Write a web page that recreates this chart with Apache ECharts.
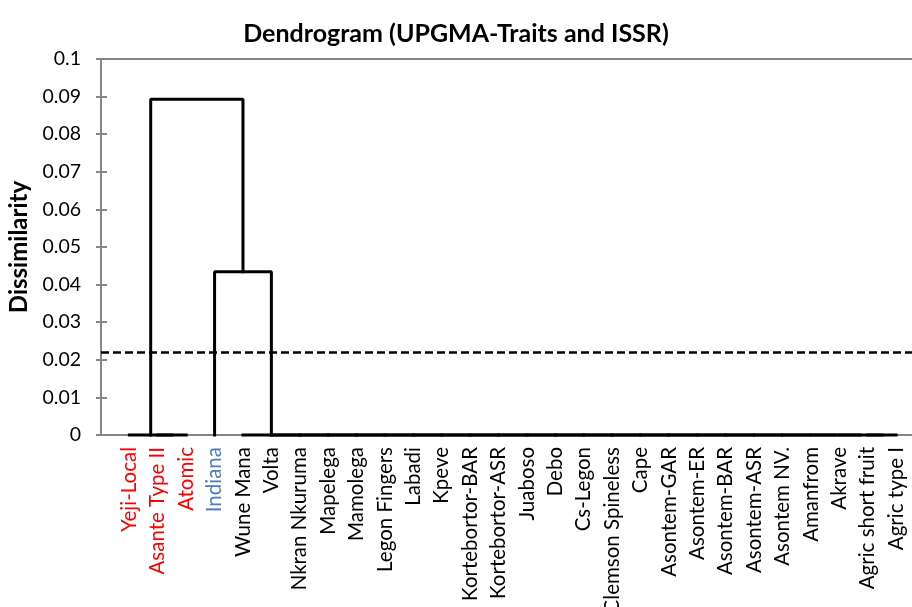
<!DOCTYPE html>
<html>
<head>
<meta charset="utf-8">
<script src="https://cdn.jsdelivr.net/npm/echarts@6/dist/echarts.min.js"></script>
<style>
    html, body { margin: 0; padding: 0; background: #fff; }
    #chart { width: 912px; height: 607px; }
</style>
</head>
<body>
<div id="chart"></div>
<script>
// leaves, left to right
const leafNames = [
    'Yeji-Local', 'Asante Type II', 'Atomic', 'Indiana', 'Wune Mana', 'Volta',
    'Nkran Nkuruma', 'Mapelega', 'Mamolega', 'Legon Fingers', 'Labadi', 'Kpeve',
    'Kortebortor-BAR', 'Kortebortor-ASR', 'Juaboso', 'Debo', 'Cs-Legon',
    'Clemson Spineless', 'Cape', 'Asontem-GAR', 'Asontem-ER', 'Asontem-BAR',
    'Asontem-ASR', 'Asontem NV.', 'Amanfrom', 'Akrave', 'Agric short fruit', 'Agric type I'
]
const redLeaves  = ['Yeji-Local', 'Asante Type II', 'Atomic']
const blueLeaves = ['Indiana']

// merges: [child a, child b, height]; ids 0-27 are leaves, new clusters get 28, 29, ...
const merges = [
    [1, 2, 0],  [0, 28, 0],
    [26, 27, 0], [25, 30, 0], [24, 31, 0], [23, 32, 0], [22, 33, 0], [21, 34, 0],
    [20, 35, 0], [19, 36, 0], [18, 37, 0], [17, 38, 0], [16, 39, 0], [15, 40, 0],
    [14, 41, 0], [13, 42, 0], [12, 43, 0], [11, 44, 0], [10, 45, 0], [9, 46, 0],
    [8, 47, 0],  [7, 48, 0],  [6, 49, 0],  [5, 50, 0],  [4, 51, 0],
    [3, 52, 0.0434],
    [29, 53, 0.0893]
]

const cutHeight  = 0.0219
const yTickLabels = ['0', '0.01', '0.02', '0.03', '0.04', '0.05', '0.06', '0.07', '0.08', '0.09', '0.1']

const font = 'Lato, "Open Sans", sans-serif'
const gray = '#868686'

// node positions: leaf i sits at i + 1, a cluster at the mean of its two children
let pos = leafNames.map((n, i) => i + 1)
let hgt = leafNames.map(() => 0)
let series = []
merges.forEach(([a, b, h]) => {
    // one U-shaped link per merge
    series.push({
        type: 'line',
        xAxisIndex: 0,
        yAxisIndex: 0,
        z: 10,
        symbol: 'none',
        silent: true,
        clip: false,
        lineStyle: { color: '#000', width: 3, cap: 'square' },
        data: [[pos[a], hgt[a]], [pos[a], h], [pos[b], h], [pos[b], hgt[b]]]
    })
    pos.push((pos[a] + pos[b]) / 2)
    hgt.push(h)
})

// phenon line
series[0].markLine = {
    silent: true,
    symbol: 'none',
    precision: 4,
    label: { show: false },
    lineStyle: { color: '#000', width: 2.5, type: [8, 4] },
    data: [{ yAxis: cutHeight }]
}

let chart = echarts.init(document.getElementById('chart'))

let option = {
    animation: false,
    backgroundColor: '#fff',
    title: {
        text: 'Dendrogram (UPGMA-Traits and ISSR)',
        left: 'center',
        top: 16,
        textStyle: { fontFamily: font, fontSize: 25, fontWeight: 'bold', color: '#000' }
    },
    grid: { left: 101, right: 0, top: 59, bottom: 172, outerBoundsMode: 'none' },
    xAxis: [
        {
            type: 'value',
            min: 0,
            max: 28.56,
            interval: 1,
            axisLine: { show: true, lineStyle: { color: gray, width: 2 } },
            axisTick: { show: false },
            splitLine: { show: false },
            axisLabel: {
                rotate: 90,
                margin: 12,
                fontFamily: font,
                fontSize: 20.5,
                showMaxLabel: false,
                formatter: v => {
                    let name = leafNames[v - 1]
                    if (!name) return ''
                    if (redLeaves.includes(name)) return '{r|' + name + '}'
                    if (blueLeaves.includes(name)) return '{b|' + name + '}'
                    return '{k|' + name + '}'
                },
                rich: {
                    r: { color: '#ff0000', fontFamily: font, fontSize: 20.5 },
                    b: { color: '#4a7ebb', fontFamily: font, fontSize: 20.5 },
                    k: { color: '#000', fontFamily: font, fontSize: 20.5 }
                }
            }
        },
        {
            type: 'value',
            position: 'top',
            min: 0,
            max: 28.56,
            axisLine: { show: true, onZero: false, lineStyle: { color: gray, width: 2 } },
            axisTick: { show: false },
            axisLabel: { show: false },
            splitLine: { show: false }
        }
    ],
    yAxis: [
        {
            type: 'value',
            min: 0,
            max: 0.1,
            interval: 0.01,
            name: 'Dissimilarity',
            nameLocation: 'middle',
            nameGap: 64,
            nameTextStyle: { fontFamily: font, fontSize: 24, fontWeight: 'bold', color: '#000' },
            axisLine: { show: true, lineStyle: { color: gray, width: 2 } },
            axisTick: { show: true, length: 5, lineStyle: { color: gray, width: 2 } },
            splitLine: { show: false },
            axisLabel: {
                margin: 20,
                fontFamily: font,
                fontSize: 19.5,
                color: '#000',
                formatter: (v, i) => yTickLabels[i]
            }
        },
        {
            // inner half of the crossing ticks
            type: 'value',
            position: 'left',
            min: 0,
            max: 0.1,
            interval: 0.01,
            axisLine: { show: false },
            axisTick: { show: true, inside: true, length: 6, lineStyle: { color: gray, width: 2 } },
            axisLabel: { show: false },
            splitLine: { show: false }
        }
    ],
    series: series
}

chart.setOption(option)
</script>
</body>
</html>
